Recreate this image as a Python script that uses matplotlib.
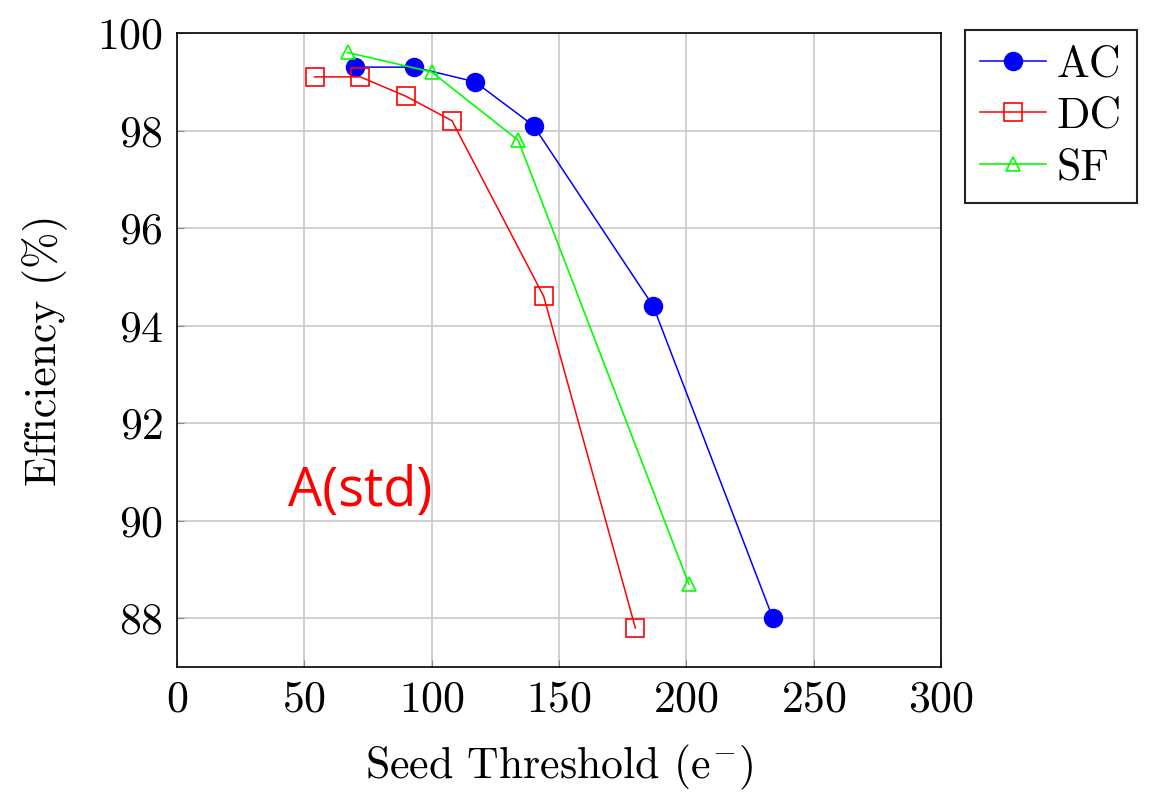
import numpy as np
import matplotlib
matplotlib.use('Agg')
import matplotlib.pyplot as plt

# data
ac_x = [70, 93, 117, 140, 187, 234]
ac_y = [99.3, 99.3, 99.0, 98.1, 94.4, 88.0]
dc_x = [54, 72, 90, 108, 144, 180]
dc_y = [99.1, 99.1, 98.7, 98.2, 94.6, 87.8]
sf_x = [67, 100, 134, 201]
sf_y = [99.6, 99.2, 97.8, 88.7]

xticks = [0, 50, 100, 150, 200, 250, 300]
yticks = [88, 90, 92, 94, 96, 98, 100]

plt.rcParams['font.family'] = 'serif'
plt.rcParams['font.serif'] = ['cmr10']
plt.rcParams['mathtext.fontset'] = 'cm'
plt.rcParams['axes.formatter.use_mathtext'] = True
plt.rcParams['font.size'] = 31.5

fig = plt.figure(figsize=(11.53, 7.93), dpi=100)
ax = fig.add_axes([0.1535, 0.1589, 0.8161 - 0.1535, 0.9584 - 0.1589])

ax.plot(ac_x, ac_y, color='#0000ff', lw=1.1, marker='o', ms=13,
        mfc='#0000ff', mec='#0000ff', label='AC', zorder=3)
ax.plot(dc_x, dc_y, color='#ff0000', lw=1.1, marker='s', ms=12.5,
        mfc='none', mec='#ff0000', mew=1.2, label='DC', zorder=3)
ax.plot(sf_x, sf_y, color='#00ff00', lw=1.2, marker='^', ms=10.5,
        mfc='none', mec='#00ff00', mew=1.2, label='SF', zorder=3)

ax.set_xlim(0, 300)
ax.set_ylim(87, 100)
ax.set_xticks(xticks)
ax.set_yticks(yticks)
ax.grid(True, color='#c8c8c8', lw=1.2)
ax.set_axisbelow(True)
ax.tick_params(direction='in', length=5, color='#888888', pad=10)
for s in ax.spines.values():
    s.set_linewidth(1.2)

ax.set_xlabel(r'Seed Threshold (e$^{-}$)', labelpad=16)
ax.set_ylabel('Efficiency (%)', labelpad=22)

ax.text(72, 90.6, 'A(std)', color='#ff0000', fontsize=39, family='Open Sans',
        ha='center', va='center')

leg = ax.legend(loc='upper left', bbox_to_anchor=(1.031, 1.005), fancybox=False,
                edgecolor='#222222', framealpha=1, handlelength=1.5,
                labelspacing=0.26, borderpad=0.35, handletextpad=0.25,
                borderaxespad=0)
leg.get_frame().set_linewidth(1.5)

fig.savefig('out.png', dpi=100)
